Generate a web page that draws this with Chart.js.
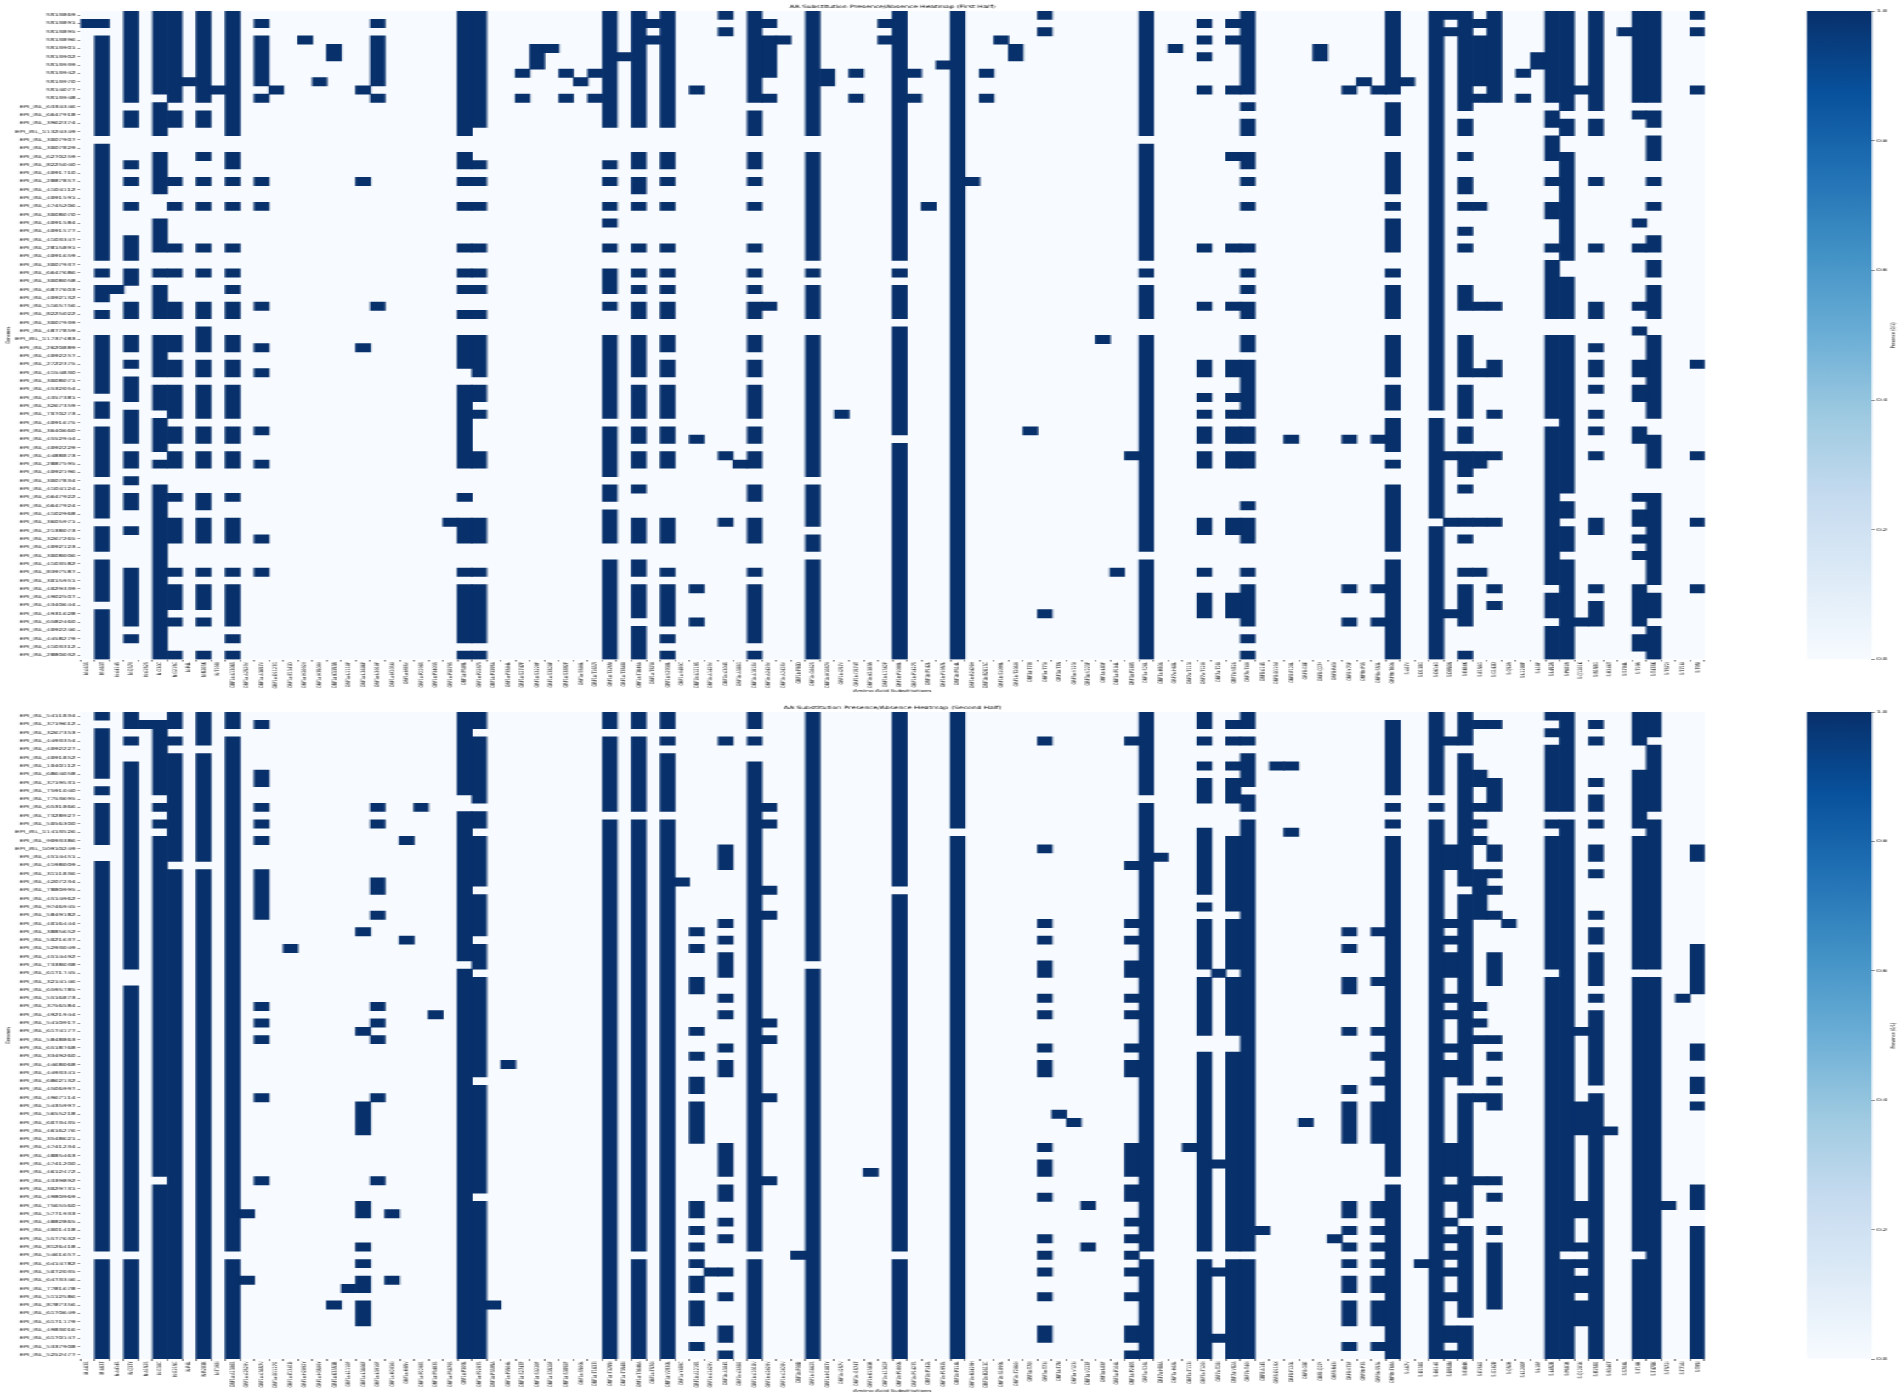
<!DOCTYPE html>
<html>
<head>
<meta charset="utf-8">
<title>AA Substitution Presence/Absence Heatmap</title>
<script src="https://cdn.jsdelivr.net/npm/chart.js@4"></script>
<style>
  html, body { margin: 0; padding: 0; background: #fff; overflow: hidden; }
  /* the reference figure is stretched sideways, so the whole stage is too */
  #stage { position: absolute; left: 0; top: 0; width: 1119px; height: 1398px;
           transform: scale(1.6997, 1); transform-origin: 0 0; }
  canvas { position: absolute; display: block; }
</style>
</head>
<body>
<div id="stage">
  <canvas id="heatFirst" width="1119" height="699" style="left:0;top:0"></canvas>
  <canvas id="barFirst" width="64" height="699" style="left:1055px;top:0"></canvas>
  <canvas id="heatSecond" width="1119" height="699" style="left:0;top:699px"></canvas>
  <canvas id="barSecond" width="64" height="699" style="left:1055px;top:699px"></canvas>
</div>
<script>
const substitutions = [
  "M:A63S", "M:A63T", "N:A414S", "N:Q37Y", "N:A152S", "N:G30C", "N:G215C", "N:P4L",
  "N:R203K", "N:T198I", "ORF1a:A1306S", "ORF1a:A2529V", "ORF1a:A3657V", "ORF1a:D1127G",
  "ORF1a:E1341D", "ORF1a:H2092Y", "ORF1a:H3509Y", "ORF1a:K3353R", "ORF1a:L1110F",
  "ORF1a:L3606F", "ORF1a:L3910F", "ORF1a:M2036I", "ORF1a:M85V", "ORF1a:P2298S",
  "ORF1a:P3403S", "ORF1a:P3879S", "ORF1a:P309L", "ORF1a:P2287S", "ORF1a:P3395A",
  "ORF1a:P3504L", "ORF1a:S2747F", "ORF1a:S3220F", "ORF1a:S3520F", "ORF1a:S3892F",
  "ORF1a:S500L", "ORF1a:T1637I", "ORF1a:T3255I", "ORF1a:T3548I", "ORF1a:T3646A",
  "ORF1a:T570I", "ORF1a:V2930L", "ORF1a:Y489C", "ORF1b:A1219S", "ORF1b:A1429V",
  "ORF1b:A304S", "ORF1b:A388G", "ORF1b:A1918V", "ORF1b:A2429V", "ORF1b:A2428V",
  "ORF1b:F90D", "ORF1b:G662S", "ORF1b:H1087Y", "ORF1b:I257V", "ORF1b:I1574T",
  "ORF1b:K1383R", "ORF1b:L1362F", "ORF1b:P1000L", "ORF1b:P1427S", "ORF1b:P142L",
  "ORF1b:P1957L", "ORF1b:P314L", "ORF1b:R2429H", "ORF1b:R2613C", "ORF1b:S1099L",
  "ORF1b:T2060I", "ORF3a:T70I", "ORF3a:T73I", "ORF3a:T7N", "ORF3a:V123I",
  "ORF3a:V223F", "ORF3a:L83F", "ORF3a:P104L", "ORF3a:P240S", "ORF3a:S26L",
  "ORF7a:H80A", "ORF7a:H68L", "ORF7a:T113I", "ORF7a:T120I", "ORF7a:T28I",
  "ORF7a:V82A", "ORF7b:T40I", "ORF8:A14S", "ORF8:D119X", "ORF8:F120L", "ORF8:G8E",
  "ORF8:Q27*", "ORF8:R43I", "ORF8:Y73F", "ORF9b:P3S", "ORF9b:S53L", "ORF9b:T60A",
  "S:A67V", "S:D138G", "S:D614G", "S:D950N", "S:E484K", "S:E156G", "S:G142D",
  "S:Q52R", "S:L1200F", "S:L18F", "S:L452R", "S:P681R", "S:Q1201K", "S:R158G",
  "S:R346T", "S:S704L", "S:T19R", "S:T478K", "S:T572I", "S:T716I", "S:T95I"
];

const genomesFirst = [
  "SS13869", "SS13891", "SS13895", "SS13896", "SS13901", "SS13902", "SS13939", "SS13942",
  "SS13970", "SS14077", "SS13948", "EPI_ISL_6334346", "EPI_ISL_6647918", "EPI_ISL_3962374",
  "EPI_ISL_11324349", "EPI_ISL_3007907", "EPI_ISL_3007829", "EPI_ISL_6270259",
  "EPI_ISL_8225040", "EPI_ISL_4091710", "EPI_ISL_2887857", "EPI_ISL_4104112",
  "EPI_ISL_4091591", "EPI_ISL_4745206", "EPI_ISL_3008070", "EPI_ISL_4091584",
  "EPI_ISL_4091577", "EPI_ISL_4103347", "EPI_ISL_2815891", "EPI_ISL_4091659",
  "EPI_ISL_3007937", "EPI_ISL_6647686", "EPI_ISL_3008058", "EPI_ISL_6877603",
  "EPI_ISL_4092132", "EPI_ISL_5165756", "EPI_ISL_8225022", "EPI_ISL_3007939",
  "EPI_ISL_4877859", "EPI_ISL_11737483", "EPI_ISL_2620889", "EPI_ISL_4092257",
  "EPI_ISL_2722375", "EPI_ISL_4154830", "EPI_ISL_3008071", "EPI_ISL_4532054",
  "EPI_ISL_4357381", "EPI_ISL_3267359", "EPI_ISL_7070273", "EPI_ISL_4091675",
  "EPI_ISL_3640660", "EPI_ISL_4552944", "EPI_ISL_4092229", "EPI_ISL_4488873",
  "EPI_ISL_2887595", "EPI_ISL_4092196", "EPI_ISL_3007834", "EPI_ISL_4104124",
  "EPI_ISL_6647922", "EPI_ISL_6647924", "EPI_ISL_4102968", "EPI_ISL_3605971",
  "EPI_ISL_2138073", "EPI_ISL_3267265", "EPI_ISL_4092123", "EPI_ISL_3008006",
  "EPI_ISL_4103582", "EPI_ISL_8397587", "EPI_ISL_3015951", "EPI_ISL_4029339",
  "EPI_ISL_4902507", "EPI_ISL_4340644", "EPI_ISL_4931628", "EPI_ISL_6582460",
  "EPI_ISL_4092246", "EPI_ISL_4458279", "EPI_ISL_4103312", "EPI_ISL_2880032"
];

const genomesSecond = [
  "EPI_ISL_5411834", "EPI_ISL_3719612", "EPI_ISL_3267353", "EPI_ISL_4493354",
  "EPI_ISL_4092227", "EPI_ISL_4091852", "EPI_ISL_1040112", "EPI_ISL_6864058",
  "EPI_ISL_3719531", "EPI_ISL_7591040", "EPI_ISL_7753695", "EPI_ISL_6531866",
  "EPI_ISL_7328927", "EPI_ISL_5056300", "EPI_ISL_11413526", "EPI_ISL_9093386",
  "EPI_ISL_10910249", "EPI_ISL_4514451", "EPI_ISL_4198009", "EPI_ISL_3111836",
  "EPI_ISL_4207234", "EPI_ISL_7880995", "EPI_ISL_4514962", "EPI_ISL_9746945",
  "EPI_ISL_5849182", "EPI_ISL_4016444", "EPI_ISL_3885652", "EPI_ISL_5021637",
  "EPI_ISL_5293049", "EPI_ISL_4514492", "EPI_ISL_7338038", "EPI_ISL_6171745",
  "EPI_ISL_3214146", "EPI_ISL_6595785", "EPI_ISL_5516873", "EPI_ISL_3756584",
  "EPI_ISL_4921944", "EPI_ISL_5410917", "EPI_ISL_6174177", "EPI_ISL_5848863",
  "EPI_ISL_6518768", "EPI_ISL_3349260", "EPI_ISL_4468068", "EPI_ISL_4493341",
  "EPI_ISL_6862132", "EPI_ISL_4506997", "EPI_ISL_4967114", "EPI_ISL_5435997",
  "EPI_ISL_5655218", "EPI_ISL_6073435", "EPI_ISL_4616276", "EPI_ISL_3548621",
  "EPI_ISL_4741234", "EPI_ISL_4885463", "EPI_ISL_4741200", "EPI_ISL_4612472",
  "EPI_ISL_4339892", "EPI_ISL_3029731", "EPI_ISL_4980969", "EPI_ISL_7565560",
  "EPI_ISL_5771933", "EPI_ISL_4882865", "EPI_ISL_4001418", "EPI_ISL_5577632",
  "EPI_ISL_8126418", "EPI_ISL_5461657", "EPI_ISL_6414782", "EPI_ISL_5072035",
  "EPI_ISL_6473346", "EPI_ISL_7781678", "EPI_ISL_5112586", "EPI_ISL_8787356",
  "EPI_ISL_6170649", "EPI_ISL_6171179", "EPI_ISL_4983016", "EPI_ISL_6170147",
  "EPI_ISL_5337908", "EPI_ISL_5252477"
];

// one string per substitution: the genome rows (top = 0) where it is present
const presentFirst = [
  "1",
  "1 3-14 16-29 31 33-34 36 39-45 47-48 50-55 57-60 62-64 66-70 72-77",
  "33",
  "0-10 12-13 18 20 23 27-29 31-32 35-36 39-40 42 44-46 48-51 53-54 56 58-59 62 67-73 75",
  "",
  "0-9 11-14 17-21 25-28 31 33-36 39-43 45-47 49-52 54 57-77",
  "0-10 12-13 20 23 28 31 35-36 39-40 42-43 45-48 50-51 53-54 58 61-63 67 69-71 73 77",
  "8",
  "0-10 12-13 17 20 23 28 31 35-36 38-40 42-43 45-48 50-51 53-54 58-59 61-63 67 69-71 73 77",
  "9",
  "0-14 17-18 20 23 28 31 33 35-36 39-40 42-43 45-48 50-51 53-54 58 61-63 67 69-73 75 77",
  "",
  "1 3-8 10 20 23 35 40 43 50 54 63 67",
  "9", "", "3", "8", "4-5", "",
  "9 20 40",
  "1 3-8 10 35",
  "", "", "", "",
  "61",
  "0-14 17-18 20 23 28 31 33 36 39-42 45-54 58 61-63 67 69-75 77",
  "0-13 18 20 23 28 31 33 36 39-43 45-46 48 53-54 61-63 67 69-75 77",
  "", "",
  "7 10", "4-6", "4", "7 10", "8", "7 10",
  "0-13 18 20 23 25 28 31-33 35 39-48 50-55 57-58 60-63 66-77",
  "5",
  "0-13 17-18 20-21 23 28 31 33 35-36 39-43 45-48 50-51 53-54 57 61-63 66-67 69-72 74-77",
  "1 3",
  "0-13 17-18 20 23 28 31 33 35-36 39-40 42-43 45-48 50-51 53-54 61-63 67 69-73 75 77",
  "",
  "9 51 69 73",
  "",
  "0 2 53 61",
  "54",
  "0-10 12-14 17-18 20 23 28 31 33 35-36 39-40 42-43 45-48 50-51 53-54 57-58 61-63 67 69-75 77",
  "1 3-7 10 35",
  "3",
  "",
  "0-14 17-29 31 33-36 39-55 57-61 63-64 66-77",
  "7-8", "48", "7 10", "",
  "1 3",
  "0-29 31 33-36 38-50 52-77",
  "7 10", "23", "6",
  "0-77",
  "20", "7 10", "3", "4-5", "50",
  "0 2 72",
  "", "", "",
  "39", "67", "53",
  "0-14 16-29 31 33-36 39-64 66-77",
  "",
  "4",
  "",
  "1 3 5 9 28 35 42-43 46 48 50-51 53-54 61-62 67 70-72",
  "",
  "1 3 9 17 28 35 42-43 46 48 50-51 53-54 61-62 70-72",
  "0-9 11 13-14 17-18 20 23 28 31 33 35-36 39-40 42-48 50-51 53-54 59 61-63 67 69-73 75 77",
  "", "",
  "51", "", "4-5", "",
  "9 51 69 73",
  "8",
  "9 51 69 73",
  "0-9 11-14 17-21 23 25-28 31 33-36 39-43 45-47 49-52 54 57-64 66-77",
  "8",
  "",
  "0-47 49-60 62-77",
  "0 2 53 61 72",
  "0-11 13-14 17 20-21 23 26 28 33-35 39-43 45-48 50-51 53-55 57 61 63 67 69-73 77",
  "1 3-8 10 23 35 43 53-54 61 67",
  "0-10 35 42-43 48 53 61 69 71",
  "",
  "7 10",
  "5-6",
  "0-10 12-13 15-17 20 23-24 28 30-36 39-48 50-68 70-72 74-77",
  "0-11 13-14 17-29 32-36 39-57 59-60 62-64 66-77",
  "9 73",
  "0-11 13-14 20 28 35-36 40 42-43 45 48 50 53 61-62 69 71-73",
  "",
  "2",
  "0-10 12 25 28 35 38 42-43 45-46 50-51 58 60-61 63 65 69-73 75-76",
  "0-10 12-13 15-17 20 23 27-28 30-31 33-36 39-48 51-54 58-68 70-72 74-77",
  "", "",
  "0 2 9 42 53 61 69"
];

const presentSecond = [
  "",
  "0 2-7 9 11-15 18-64 66-77",
  "",
  "0-1 3 6-30 33-64 66-77",
  "1",
  "1-9 11 13 15-55 57-77",
  "0-1 3 5-17 19-77",
  "",
  "0-3 5-17 19-77",
  "",
  "0-1 3-64 66-77",
  "60 68",
  "1 7-8 11 13 15 19-24 35 37 39 46 56",
  "",
  "28",
  "", "",
  "71", "69",
  "26 38 47-50 59-60 64 66 68-69 71-73",
  "11 13 20-21 24 35 37 39 46 56",
  "60 68",
  "15 27",
  "11", "36", "",
  "0-9 12-29 31-77",
  "0-1 3-10 12-13 15-20 22-26 28-30 32-43 45-57 59-77",
  "71", "42",
  "", "", "", "", "", "",
  "0-1 3-11 13-77",
  "",
  "0-1 3-11 13-64 66-77",
  "",
  "0-1 3 5-11 13-77",
  "20",
  "26 28 32-33 38 41 44-45 47-51 59-60 62 64 66 68-69 71-73 76",
  "67",
  "3 16-18 25 27 29-31 34 36 40 42-43 52-55 57-58 61 63 67 70 74-75 77",
  "",
  "0-1 3 6-64 66-77",
  "11 13 21 24 37 39 46 56",
  "",
  "65",
  "0-29 31-77",
  "", "", "",
  "55",
  "",
  "0-20 22-64 66-77",
  "", "", "",
  "0-13 15-77",
  "", "", "", "", "",
  "3 16 25 27 30-31 34 36 40 42-43 52 54-55 58 63 65 67 70 74-75",
  "48", "49", "59 64",
  "", "",
  "3 18 25 27 30-31 34 36 40 42-43 52-55 57-58 61 63 65 67 70 74-75 77",
  "0-9 11-64 66-77",
  "17", "", "52",
  "0-1 3 6 8-10 14-21 23 25-30 32-38 41-64 66-77",
  "31 54 67 75",
  "1 3 6 8-10 15-23 25-30 32-38 41-64 66-77",
  "0-1 3 5-8 10-11 13-64 66-77",
  "62", "6", "6 14", "49", "", "63",
  "26 28 32-33 38 45 47-51 59-60 62 64 66 68-69 71-73 76",
  "",
  "26 32 38 41 44 47-51 59-60 62 64 66 68-69 71-73 76",
  "1-9 11 13 15-55 57-77",
  "",
  "66",
  "0-9 11 13-77",
  "3 16-18 25 27 29-31 34 36 40 42-43 52-55 57-58 61 63 65 67 70 74-75 77",
  "0-3 5-20 22-44 46-60 62-72 74-77",
  "1 7-8 11 13 15 19-24 35 37 39 46 56",
  "1 8-11 16-17 19 21 24 29-32 39 41 44 46-47 56 58 62 64-71",
  "25",
  "", "",
  "0 2 4-11 13 15-30 32-77",
  "0-11 13-64 66-77",
  "38 47-50 59-60 64 66 68-69 71-73",
  "1 3 8 10-11 13 16-17 19 24 26-27 29-32 34 36-44 46-77",
  "50",
  "",
  "0-3 7-13 15-30 32-64 66-77",
  "0-2 4-11 13-30 32-77",
  "59", "34",
  "16-17 28-33 40-41 44-45 47 57-59 62-77"
];

const colorbarTicks = [0, 0.2, 0.4, 0.6, 0.8, 1];

const ABSENT = "#f7fbff";
const PRESENT = "#08306b";
const BLUES = ["#f7fbff", "#deebf7", "#c6dbef", "#9ecae1", "#6baed6", "#4292c6", "#2171b5", "#08519c", "#08306b"];
const FONT = "'DejaVu Sans'";
const TEXT = "#000";

// "3-5 9" -> [[3, 6], [9, 10]]: bar ends on the row axis
function parseRuns(text) {
  if (!text) return [];
  return text.split(" ").map((part) => {
    const ends = part.split("-").map(Number);
    return [ends[0], ends[ends.length - 1] + 1];
  });
}

// without this the tiny labels get whole-pixel glyph advances
const preciseText = {
  id: "preciseText",
  beforeDraw(chart) {
    chart.ctx.textRendering = "geometricPrecision";
  },
};

const plotBackground = {
  id: "plotBackground",
  beforeDatasetsDraw(chart) {
    const { ctx, chartArea } = chart;
    ctx.save();
    ctx.fillStyle = ABSENT;
    ctx.fillRect(chartArea.left, chartArea.top, chartArea.width, chartArea.height);
    ctx.restore();
  },
};

function drawHeatmap(id, chartTitle, genomes, present, titlePad, bottomSpace, xTitleBottom) {
  const columns = present.map(parseRuns);
  const depth = Math.max(...columns.map((c) => c.length));
  const datasets = [];
  for (let k = 0; k < depth; k++) {
    datasets.push({
      data: columns.map((c) => c[k] || null),
      backgroundColor: PRESENT,
      borderWidth: 0,
      borderSkipped: false,
      grouped: false,
      barPercentage: 1,
      categoryPercentage: 1,
    });
  }

  new Chart(document.getElementById(id), {
    type: "bar",
    data: { labels: substitutions, datasets },
    plugins: [preciseText, plotBackground],
    options: {
      responsive: false,
      animation: false,
      devicePixelRatio: 1,
      layout: { padding: { left: 0, right: 116.1, top: 0, bottom: 0 } },
      plugins: {
        legend: { display: false },
        tooltip: { enabled: false },
        title: {
          display: true,
          fullSize: false,
          text: chartTitle,
          color: TEXT,
          font: { family: FONT, size: 4.4, weight: "normal" },
          padding: titlePad,
        },
      },
      scales: {
        x: {
          type: "category",
          offset: true,
          border: { display: false },
          grid: { drawOnChartArea: false, drawTicks: true, tickLength: 2, tickWidth: 0.5, tickColor: TEXT },
          ticks: {
            autoSkip: false,
            minRotation: 90,
            maxRotation: 90,
            padding: 0.5,
            color: TEXT,
            font: { family: FONT, size: 3.45 },
          },
          title: {
            display: true,
            text: "Amino Acid Substitutions",
            color: TEXT,
            font: { family: FONT, size: 3.7 },
            padding: { top: 0, bottom: xTitleBottom },
          },
          afterFit(scale) {
            scale.height = bottomSpace;
          },
        },
        y: {
          type: "linear",
          reverse: true,
          min: 0,
          max: genomes.length,
          border: { display: false },
          grid: { drawOnChartArea: false, drawTicks: true, tickLength: 1.5, tickWidth: 0.5, tickColor: TEXT },
          afterBuildTicks(scale) {
            scale.ticks = genomes.map((g, i) => ({ value: i + 0.5 }));
          },
          ticks: {
            autoSkip: false,
            padding: 1.3,
            color: TEXT,
            font: { family: FONT, size: 3.9 },
            callback: (value, index) => genomes[index],
          },
          title: {
            display: true,
            text: "Genomes",
            color: TEXT,
            font: { family: FONT, size: 3.6 },
            padding: { top: 3, bottom: 0 },
          },
          afterFit(scale) {
            scale.width = 47.3;
          },
        },
      },
    },
  });
}

const colorbarLabel = {
  id: "colorbarLabel",
  afterDraw(chart) {
    const { ctx, chartArea } = chart;
    ctx.save();
    ctx.translate(58.7, (chartArea.top + chartArea.bottom) / 2);
    ctx.rotate(-Math.PI / 2);
    ctx.font = "3.6px " + FONT;
    ctx.fillStyle = TEXT;
    ctx.textAlign = "center";
    ctx.textBaseline = "middle";
    ctx.fillText("Presence (0/1)", 0, 0);
    ctx.restore();
  },
};

function drawColorbar(id, top, bottom) {
  new Chart(document.getElementById(id), {
    type: "bar",
    data: {
      labels: [""],
      datasets: [
        {
          data: [[0, 1]],
          borderWidth: 0,
          borderSkipped: false,
          barPercentage: 1,
          categoryPercentage: 1,
          backgroundColor(context) {
            const area = context.chart.chartArea;
            if (!area) return PRESENT;
            const g = context.chart.ctx.createLinearGradient(0, area.bottom, 0, area.top);
            BLUES.forEach((c, i) => g.addColorStop(i / (BLUES.length - 1), c));
            return g;
          },
        },
      ],
    },
    plugins: [preciseText, colorbarLabel],
    options: {
      responsive: false,
      animation: false,
      devicePixelRatio: 1,
      layout: { padding: { left: 7.9, right: 0, top, bottom } },
      plugins: { legend: { display: false }, tooltip: { enabled: false } },
      scales: {
        x: { display: false, offset: true },
        y: {
          position: "right",
          min: 0,
          max: 1,
          border: { display: false },
          grid: { drawOnChartArea: false, drawTicks: true, tickLength: 1.5, tickWidth: 0.5, tickColor: TEXT },
          afterBuildTicks(scale) {
            scale.ticks = colorbarTicks.map((v) => ({ value: v }));
          },
          ticks: {
            padding: 1.3,
            color: TEXT,
            font: { family: FONT, size: 3.8 },
            callback: (value) => Number(value).toFixed(1),
          },
          afterFit(scale) {
            scale.width = 17.6;
          },
        },
      },
    },
  });
}

drawHeatmap("heatFirst", "AA Substitution Presence/Absence Heatmap (First Half)", genomesFirst, presentFirst,
  { top: 4.7, bottom: 1.02 }, 39.5, 6);
drawHeatmap("heatSecond", "AA Substitution Presence/Absence Heatmap (Second Half)", genomesSecond, presentSecond,
  { top: 6.66, bottom: 1.06 }, 39, 5);
drawColorbar("barFirst", 11, 39.5);
drawColorbar("barSecond", 13, 39);
</script>
</body>
</html>
